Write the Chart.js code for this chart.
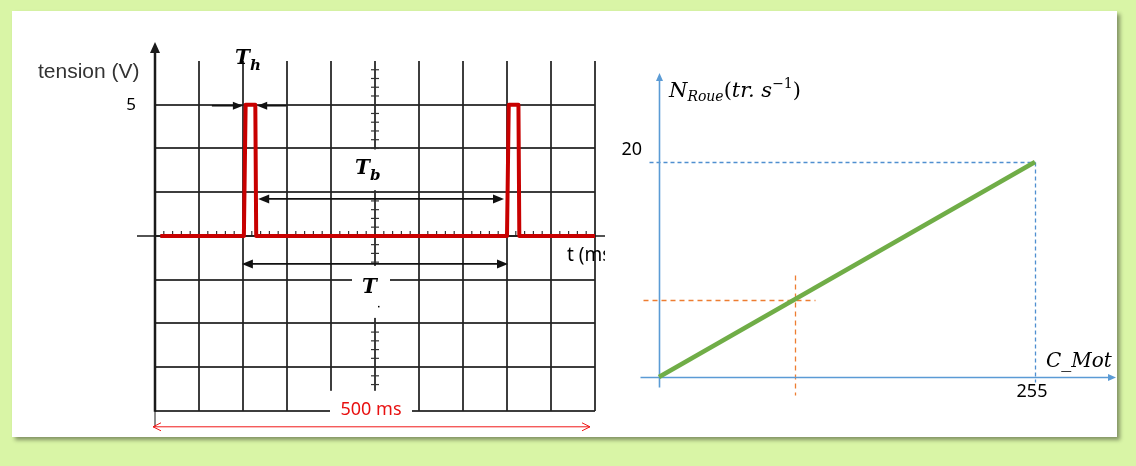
<!DOCTYPE html>
<html>
<head>
<meta charset="utf-8">
<script src="https://cdn.jsdelivr.net/npm/chart.js@4.4.1/dist/chart.umd.min.js"></script>
<style>
body { margin: 0; width: 1136px; height: 466px; background: #d9f5a6; position: relative; overflow: hidden; }
#panel { position: absolute; left: 12px; top: 11px; width: 1105px; height: 426px; background: #fff; box-shadow: 3px 3px 4px rgba(0,0,0,0.4); }
canvas { position: absolute; }
#scope { left: 20px; top: 20px; }
#speed { left: 605px; top: 40px; }
</style>
</head>
<body>
<div id="panel"></div>
<canvas id="scope" width="585" height="420"></canvas>
<canvas id="speed" width="512" height="370"></canvas>
<script>
// PWM signal seen on the scope (t in ms, tension in V)
const timeMs = [6, 101, 103, 114, 115, 400, 402, 413, 414, 500]
const tensionV = [0, 0, 5, 5, 0, 0, 5, 5, 0, 0]
const timeTicks = [0, 50, 100, 150, 200, 250, 300, 350, 400, 450, 500]
const voltTicks = [-20/3, -5, -10/3, -5/3, 0, 5/3, 10/3, 5]
const voltLabels = ['5']

// wheel speed vs motor command
const cMot = [0, 255]
const nRoue = [0, 20]
const markC = [92]
const markN = [7.2]
const cTicks = [255]
const nTicks = [20]

const arrowHead = (ctx, x, y, angle, len, half) => {
    ctx.save()
    ctx.translate(x, y)
    ctx.rotate(angle)
    ctx.beginPath()
    ctx.moveTo(0, 0)
    ctx.lineTo(-len, -half)
    ctx.lineTo(-len, half)
    ctx.closePath()
    ctx.fill()
    ctx.restore()
}

const line = (ctx, x1, y1, x2, y2) => {
    ctx.beginPath()
    ctx.moveTo(x1, y1)
    ctx.lineTo(x2, y2)
    ctx.stroke()
}

const snap = v => Math.round(v) + 0.5

const scopeDecor = {
    id: 'scopeDecor',
    beforeDatasetsDraw(chart) {
        const { ctx, chartArea: ca, scales: { x, y } } = chart
        const x0 = x.getPixelForValue(0)
        const y0 = y.getPixelForValue(0)
        const xc = x.getPixelForValue(250)
        ctx.save()
        // small graduations
        ctx.strokeStyle = '#333'
        ctx.lineWidth = 1.2
        for (let k = -20; k <= 19; k++) {
            const py = y.getPixelForValue(k / 3)
            line(ctx, xc - 4, py, xc + 4, py)
        }
        for (let t = 10; t <= 500; t += 10) {
            const px = x.getPixelForValue(t)
            line(ctx, px, y0, px, y0 - 5)
        }
        // white label boxes
        ctx.fillStyle = '#fff'
        const y53 = y.getPixelForValue(5/3)
        const y103 = y.getPixelForValue(10/3)
        ctx.fillRect(xc - 30, y103 + 1, 52, y53 - y103 - 3)
        ctx.fillRect(xc - 23, y0 + 30, 38, 52)
        ctx.fillRect(xc - 45, ca.bottom - 20, 82, 24)
        // axes
        ctx.strokeStyle = '#1a1a1a'
        ctx.fillStyle = '#1a1a1a'
        ctx.lineWidth = 2.5
        line(ctx, x0, ca.bottom + 1, x0, ca.top - 12)
        arrowHead(ctx, x0, ca.top - 19, -Math.PI / 2, 11, 5)
        ctx.lineWidth = 1
        line(ctx, x0, ca.bottom, x0, ca.bottom + 16)
        ctx.lineWidth = 1.5
        line(ctx, x0 - 18, y0, ca.right + 10, y0)
        ctx.restore()
    },
    afterDatasetsDraw(chart) {
        const { ctx, chartArea: ca, scales: { x, y } } = chart
        const x0 = x.getPixelForValue(0)
        const y0 = y.getPixelForValue(0)
        const y5 = y.getPixelForValue(5)
        const y103 = y.getPixelForValue(10/3)
        const xc = x.getPixelForValue(250)
        const rise1 = x.getPixelForValue(timeMs[1])
        const fall1 = x.getPixelForValue(timeMs[4])
        const rise2 = x.getPixelForValue(timeMs[5])
        ctx.save()
        ctx.strokeStyle = '#111'
        ctx.fillStyle = '#111'
        ctx.lineWidth = 1.6
        // Th arrows
        line(ctx, rise1 - 32, y5 + 1, rise1 - 8, y5 + 1)
        arrowHead(ctx, rise1 - 1, y5 + 1, 0, 10, 4)
        line(ctx, fall1 + 30, y5 + 1, fall1 + 8, y5 + 1)
        arrowHead(ctx, fall1 + 1, y5 + 1, Math.PI, 10, 4)
        // Tb arrow
        const yb = y0 - 37
        line(ctx, fall1 + 8, yb, rise2 - 10, yb)
        arrowHead(ctx, fall1 + 2, yb, Math.PI, 11, 4.5)
        arrowHead(ctx, rise2 - 3, yb, 0, 11, 4.5)
        // T arrow
        const yt = y0 + 28
        line(ctx, rise1 + 5, yt, rise2 - 6, yt)
        arrowHead(ctx, rise1 - 2, yt, Math.PI, 11, 4.5)
        arrowHead(ctx, rise2 + 1, yt, 0, 11, 4.5)
        // labels
        ctx.fillStyle = '#333'
        ctx.font = '21px "Liberation Sans"'
        ctx.textBaseline = 'alphabetic'
        ctx.fillText('tension (V)', x0 - 117, ca.top + 17)
        ctx.fillStyle = '#000'
        ctx.font = 'italic bold 20px "DejaVu Serif"'
        ctx.fillText('T', x0 + 80, ca.top + 3)
        ctx.fillText('T', xc - 20, y103 + 26)
        ctx.fillText('T', xc - 13, y0 + 57)
        ctx.font = 'italic bold 15px "DejaVu Serif"'
        ctx.fillText('h', x0 + 95, ca.top + 9)
        ctx.fillText('b', xc - 5, y103 + 32)
        ctx.fillRect(xc + 3, y0 + 70, 1.5, 1.5)
        ctx.font = '19px "Noto Sans"'
        ctx.fillText('t (ms)', ca.right - 28, y0 + 25)
        // 500 ms span
        ctx.fillStyle = '#e81010'
        ctx.font = '18px "Noto Sans"'
        ctx.textAlign = 'center'
        ctx.fillText('500 ms', xc - 4, ca.bottom + 4)
        ctx.strokeStyle = '#f01818'
        ctx.lineWidth = 1
        const ya = ca.bottom + 16
        const xa1 = x0 - 2, xa2 = ca.right - 5
        line(ctx, xa1, ya, xa2, ya)
        ctx.beginPath()
        ctx.moveTo(xa1 + 8, ya - 4); ctx.lineTo(xa1, ya); ctx.lineTo(xa1 + 8, ya + 4)
        ctx.moveTo(xa2 - 8, ya - 4); ctx.lineTo(xa2, ya); ctx.lineTo(xa2 - 8, ya + 4)
        ctx.stroke()
        ctx.restore()
    }
}

const gridCol = 'rgba(35,35,35,0.88)'
new Chart(document.getElementById('scope'), {
    type: 'line',
    data: {
        datasets: [{
            data: timeMs.map((t, i) => ({ x: t, y: tensionV[i] })),
            borderColor: '#c80000',
            borderWidth: 4,
            borderJoinStyle: 'round',
            pointRadius: 0,
            tension: 0
        }]
    },
    options: {
        responsive: false,
        animation: false,
        events: [],
        plugins: { legend: { display: false }, tooltip: { enabled: false } },
        layout: { padding: { left: 95, right: 10, top: 41, bottom: 27 } },
        scales: {
            x: {
                type: 'linear', min: 0, max: 500,
                afterBuildTicks: a => { a.ticks = timeTicks.map(v => ({ value: v })) },
                afterFit: a => { a.height = 0 },
                ticks: { display: false },
                grid: { color: gridCol, lineWidth: 2, drawTicks: false },
                border: { display: false }
            },
            y: {
                type: 'linear', min: -20/3, max: 20/3,
                afterBuildTicks: a => { a.ticks = voltTicks.map(v => ({ value: v })) },
                afterFit: a => { a.width = 40 },
                ticks: {
                    padding: 19, color: '#000', font: { family: 'Noto Sans', size: 17 },
                    callback: v => voltLabels.includes(String(v)) ? String(v) : ''
                },
                grid: { color: gridCol, lineWidth: 2, drawTicks: false },
                border: { display: false }
            }
        }
    },
    plugins: [scopeDecor]
})

const speedDecor = {
    id: 'speedDecor',
    beforeDatasetsDraw(chart) {
        const { ctx, chartArea: ca, scales: { x, y } } = chart
        const x0 = snap(x.getPixelForValue(0))
        const y0 = snap(y.getPixelForValue(0))
        const xm = snap(x.getPixelForValue(cMot[1]))
        const ym = snap(y.getPixelForValue(nRoue[1]))
        const xk = snap(x.getPixelForValue(markC[0]))
        const yk = snap(y.getPixelForValue(markN[0]))
        ctx.save()
        ctx.lineWidth = 1.3
        ctx.setLineDash([4, 3])
        ctx.strokeStyle = '#4f8fd0'
        line(ctx, x0 - 10, ym, xm, ym)
        line(ctx, xm, ym, xm, y0 + 5)
        ctx.setLineDash([5, 4])
        ctx.strokeStyle = '#ed7d31'
        line(ctx, x0 - 16, yk, xk + 20, yk)
        line(ctx, xk, yk - 25, xk, y0 + 18)
        ctx.setLineDash([])
        ctx.strokeStyle = '#5b9bd5'
        ctx.fillStyle = '#5b9bd5'
        ctx.lineWidth = 1.6
        line(ctx, x0, y0 + 10, x0, ca.top - 82)
        arrowHead(ctx, x0, ca.top - 89, -Math.PI / 2, 8, 3.5)
        line(ctx, x0 - 19, y0, chart.width - 6, y0)
        arrowHead(ctx, chart.width - 1, y0, 0, 8, 3.5)
        ctx.restore()
    },
    afterDatasetsDraw(chart) {
        const { ctx, chartArea: ca, scales: { x, y } } = chart
        const x0 = x.getPixelForValue(0)
        const y0 = y.getPixelForValue(0)
        const xm = x.getPixelForValue(cMot[1])
        ctx.save()
        ctx.fillStyle = '#000'
        ctx.textBaseline = 'alphabetic'
        const big = 'italic 21px "DejaVu Serif"'
        const small = 'italic 14px "DejaVu Serif"'
        let px = x0 + 10
        const by = ca.top - 65
        const put = (txt, font, dy) => {
            ctx.font = font
            ctx.fillText(txt, px, by + dy)
            px += ctx.measureText(txt).width
        }
        put('N', big, 0)
        put('Roue', small, 4)
        put('(', '21px "DejaVu Serif"', 0)
        put('tr. s', big, 0)
        put('\u22121', '14px "DejaVu Serif"', -9)
        put(')', '21px "DejaVu Serif"', 0)
        ctx.font = 'italic 20px "DejaVu Serif"'
        ctx.fillText('C_Mot', xm + 11, y0 - 10)
        ctx.restore()
    }
}

new Chart(document.getElementById('speed'), {
    type: 'line',
    data: {
        datasets: [{
            data: cMot.map((c, i) => ({ x: c, y: nRoue[i] })),
            borderColor: '#70ad47',
            borderWidth: 4.5,
            pointRadius: 0,
            clip: 10
        }]
    },
    options: {
        responsive: false,
        animation: false,
        events: [],
        plugins: { legend: { display: false }, tooltip: { enabled: false } },
        layout: { padding: { left: 14, right: 82, top: 122, bottom: 3 } },
        scales: {
            x: {
                type: 'linear', min: 0, max: 255,
                afterBuildTicks: a => { a.ticks = cTicks.map(v => ({ value: v })) },
                afterFit: a => { a.height = 30 },
                ticks: { padding: 4, labelOffset: -3, color: '#000', font: { family: 'Noto Sans', size: 18 } },
                grid: { display: false, drawTicks: false },
                border: { display: false }
            },
            y: {
                type: 'linear', min: 0, max: 20,
                afterBuildTicks: a => { a.ticks = nTicks.map(v => ({ value: v })) },
                afterFit: a => { a.width = 40 },
                ticks: { padding: 17, labelOffset: -12, color: '#000', font: { family: 'Noto Sans', size: 18 } },
                grid: { display: false, drawTicks: false },
                border: { display: false }
            }
        }
    },
    plugins: [speedDecor]
})
</script>
</body>
</html>
